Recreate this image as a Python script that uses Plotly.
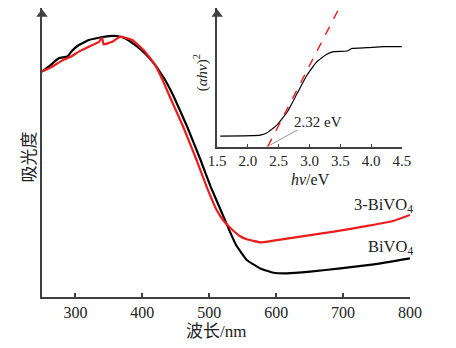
import plotly.graph_objects as go

# Main spectra: wavelength (nm) vs absorbance (a.u.)
wl_bivo4 = [250, 260, 275, 288, 295, 305, 320, 335, 350, 362, 374, 389, 404, 419, 427, 434,
            447, 467, 487, 502, 517, 532, 540, 556, 576, 596, 616, 651, 696, 746, 800]
abs_bivo4 = [0.780, 0.797, 0.826, 0.832, 0.852, 0.872, 0.889, 0.897, 0.903, 0.903, 0.895, 0.872,
             0.843, 0.803, 0.776, 0.751, 0.693, 0.589, 0.474, 0.382, 0.301, 0.220, 0.180, 0.128,
             0.099, 0.084, 0.082, 0.088, 0.099, 0.113, 0.134]

wl_3bivo4 = [250, 265, 280, 295, 305, 320, 335, 340, 342, 355, 367, 385, 404, 419, 430, 441,
             461, 481, 496, 511, 522, 532, 545, 556, 576, 596, 636, 686, 736, 776, 800]
abs_3bivo4 = [0.780, 0.797, 0.818, 0.834, 0.849, 0.866, 0.883, 0.897, 0.874, 0.883, 0.901, 0.889,
              0.849, 0.803, 0.752, 0.693, 0.589, 0.474, 0.382, 0.301, 0.262, 0.238, 0.212, 0.200,
              0.189, 0.195, 0.209, 0.226, 0.246, 0.264, 0.284]

# Inset Tauc plot
hv = [1.55, 2.20, 2.31, 2.47, 2.64, 2.80, 2.96, 3.12, 3.28, 3.39, 3.61, 3.69, 3.93, 4.20, 4.50]
tauc = [0.077, 0.084, 0.101, 0.156, 0.252, 0.385, 0.517, 0.613, 0.666, 0.685, 0.690, 0.709,
        0.714, 0.721, 0.721]
tangent_x = [2.32, 3.47]
tangent_y = [0.0, 0.99]
leader_x = [2.36, 2.80]
leader_y = [0.012, 0.12]

main_ticks = [300, 400, 500, 600, 700, 800]
inset_ticks = [1.5, 2.0, 2.5, 3.0, 3.5, 4.0, 4.5]

SERIF = "Liberation Serif"
FONT = "Liberation Serif, Noto Sans CJK SC"
AX = "#404040"
RED = "#ec1c1c"

fig = go.Figure()
fig.add_trace(go.Scatter(x=wl_bivo4, y=abs_bivo4, mode="lines",
                         line=dict(color="black", width=2.2, shape="spline", smoothing=0.3)))
fig.add_trace(go.Scatter(x=wl_3bivo4, y=abs_3bivo4, mode="lines",
                         line=dict(color=RED, width=2.2, shape="spline", smoothing=0.3)))
# arrow heads on axes
fig.add_trace(go.Scatter(x=[250], y=[0.978], mode="markers", cliponaxis=False,
                         marker=dict(symbol="triangle-up", size=10, color=AX)))
fig.add_trace(go.Scatter(x=hv, y=tauc, xaxis="x2", yaxis="y2", mode="lines",
                         line=dict(color="black", width=1.2, shape="spline", smoothing=0.4)))
fig.add_trace(go.Scatter(x=tangent_x, y=tangent_y, xaxis="x2", yaxis="y2", mode="lines",
                         line=dict(color=RED, width=1.5, dash="dash")))
fig.add_trace(go.Scatter(x=leader_x, y=leader_y, xaxis="x2", yaxis="y2", mode="lines",
                         line=dict(color="#777777", width=0.8)))
fig.add_trace(go.Scatter(x=[1.5], y=[0.955], xaxis="x2", yaxis="y2", mode="markers",
                         cliponaxis=False,
                         marker=dict(symbol="triangle-up", size=10, color=AX)))

fig.update_layout(
    width=456, height=348,
    margin=dict(l=41.5, r=46.3, t=8, b=51),
    paper_bgcolor="white", plot_bgcolor="white",
    showlegend=False,
    font=dict(family=FONT, size=15, color="#222222"),
    xaxis=dict(range=[250, 800], showline=True, linecolor=AX, linewidth=1.8,
               ticks="inside", ticklen=4, tickcolor=AX, tickwidth=1.5,
               tickvals=main_ticks, showgrid=False, zeroline=False,
               tickfont=dict(family=SERIF, size=16, color="#222222")),
    yaxis=dict(range=[0, 1], showline=True, linecolor=AX, linewidth=1.8,
               showticklabels=False, ticks="", showgrid=False, zeroline=False),
    xaxis2=dict(domain=[0.476, 0.978], anchor="y2", range=[1.5, 4.5], showline=True,
                linecolor=AX, linewidth=1.5, ticks="inside", ticklen=3, tickcolor=AX,
                tickvals=inset_ticks, ticktext=[f"{t:.1f}" for t in inset_ticks],
                showgrid=False, zeroline=False,
                tickfont=dict(family=SERIF, size=15, color="#222222")),
    yaxis2=dict(domain=[0.520, 1.0], anchor="x2", range=[0, 1], showline=True,
                linecolor=AX, linewidth=1.5, showticklabels=False, ticks="",
                showgrid=False, zeroline=False),
    annotations=[
        dict(text="波长/nm", xref="paper", yref="paper", x=0.474, y=-0.118,
             showarrow=False, font=dict(size=17), xanchor="center", yanchor="middle"),
        dict(text="吸光度", xref="paper", yref="paper", x=-0.034, y=0.484, textangle=-90,
             showarrow=False, font=dict(size=17), xanchor="center", yanchor="middle"),
        dict(text="<i>hv</i>/eV", xref="paper", yref="paper", x=0.729, y=0.405,
             showarrow=False, font=dict(family=SERIF, size=16), xanchor="center",
             yanchor="middle"),
        dict(text="(<i>αhv</i>)<sup>2</sup>", xref="paper", yref="paper", x=0.430, y=0.775,
             textangle=-90, showarrow=False, font=dict(family=SERIF, size=15),
             xanchor="center", yanchor="middle"),
        dict(text="3-BiVO<sub>4</sub>", xref="paper", yref="paper", x=1.013, y=0.318,
             showarrow=False, xanchor="right", yanchor="middle",
             font=dict(family=SERIF, size=16.5)),
        dict(text="BiVO<sub>4</sub>", xref="paper", yref="paper", x=1.013, y=0.173,
             showarrow=False, xanchor="right", yanchor="middle",
             font=dict(family=SERIF, size=16.5)),
        dict(text="2.32 eV", x=3.14, y=0.178, xref="x2", yref="y2",
             showarrow=False, xanchor="center", yanchor="middle",
             font=dict(family=SERIF, size=15)),
    ],
)

fig.write_html("out.html")
